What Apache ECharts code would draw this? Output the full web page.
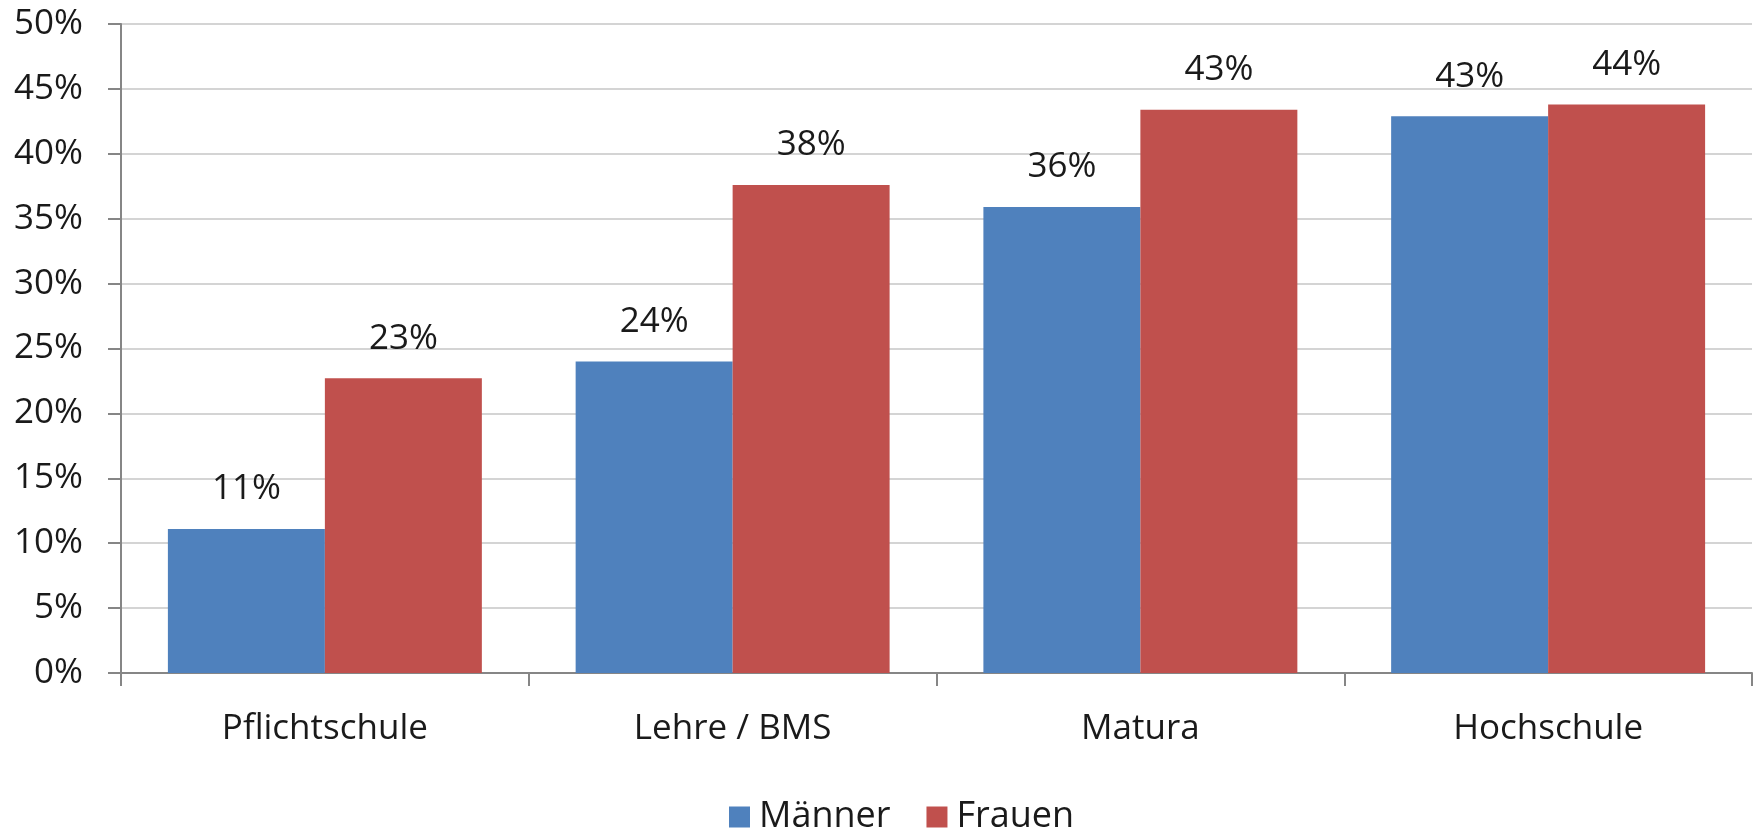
<!DOCTYPE html>
<html lang="de">
<head>
    <meta charset="UTF-8">
    <title>Bildung</title>
    <script src="https://cdn.jsdelivr.net/npm/echarts@6/dist/echarts.min.js"></script>
    <style>
        html, body { margin: 0; padding: 0; background: #fff; }
        #myChart { width: 1756px; height: 830px; }
    </style>
</head>
<body>
<div id="myChart"></div>
<script type="text/javascript">
    var categories = ["Pflichtschule", "Lehre / BMS", "Matura", "Hochschule"];
    var maenner = [11.1, 24.0, 35.9, 42.9];
    var frauen = [22.7, 37.6, 43.4, 43.8];
    var yTicks = [0, 5, 10, 15, 20, 25, 30, 35, 40, 45, 50];

    var font = "Open Sans";
    var txt = "#1a1a1a";

    var myChart = echarts.init(document.getElementById('myChart'));

    // Beschriftung über den Balken
    function barLabel() {
        return {
            show: true,
            position: 'top',
            distance: 22,
            fontFamily: font,
            fontSize: 35,
            color: txt,
            formatter: function (p) {
                return Math.round(p.value) + '%';
            }
        };
    }

    var option = {
        animation: false,
        textStyle: {fontFamily: font},
        grid: {left: 121, right: 4, top: 24, bottom: 157, containLabel: false},
        legend: {
            left: 724,
            top: 794,
            itemWidth: 21,
            itemHeight: 21,
            itemGap: 36,
            icon: 'rect',
            textStyle: {fontFamily: font, fontSize: 36, color: txt, padding: [0, 0, 0, 4]},
            data: ['Männer', 'Frauen']
        },
        xAxis: {
            type: 'category',
            data: categories,
            axisLine: {lineStyle: {color: '#868686', width: 2}},
            axisTick: {show: true, length: 13, lineStyle: {color: '#868686', width: 2}},
            axisLabel: {fontFamily: font, fontSize: 35, color: txt, margin: 39}
        },
        yAxis: {
            type: 'value',
            min: yTicks[0],
            max: yTicks[yTicks.length - 1],
            interval: yTicks[1] - yTicks[0],
            axisLine: {show: true, lineStyle: {color: '#868686', width: 2}},
            axisTick: {show: true, length: 13, lineStyle: {color: '#868686', width: 2}},
            axisLabel: {fontFamily: font, fontSize: 35, color: txt, margin: 38, formatter: '{value}%'},
            splitLine: {lineStyle: {color: '#d4d4d4', width: 2}}
        },
        series: [
            {
                name: 'Männer',
                type: 'bar',
                data: maenner,
                barGap: '0%',
                barCategoryGap: '23%',
                itemStyle: {color: '#4f81bd'},
                label: barLabel()
            },
            {
                name: 'Frauen',
                type: 'bar',
                data: frauen,
                barGap: '0%',
                barCategoryGap: '23%',
                itemStyle: {color: '#c0504d'},
                label: barLabel()
            }
        ]
    };
    myChart.setOption(option);
</script>
</body>
</html>
